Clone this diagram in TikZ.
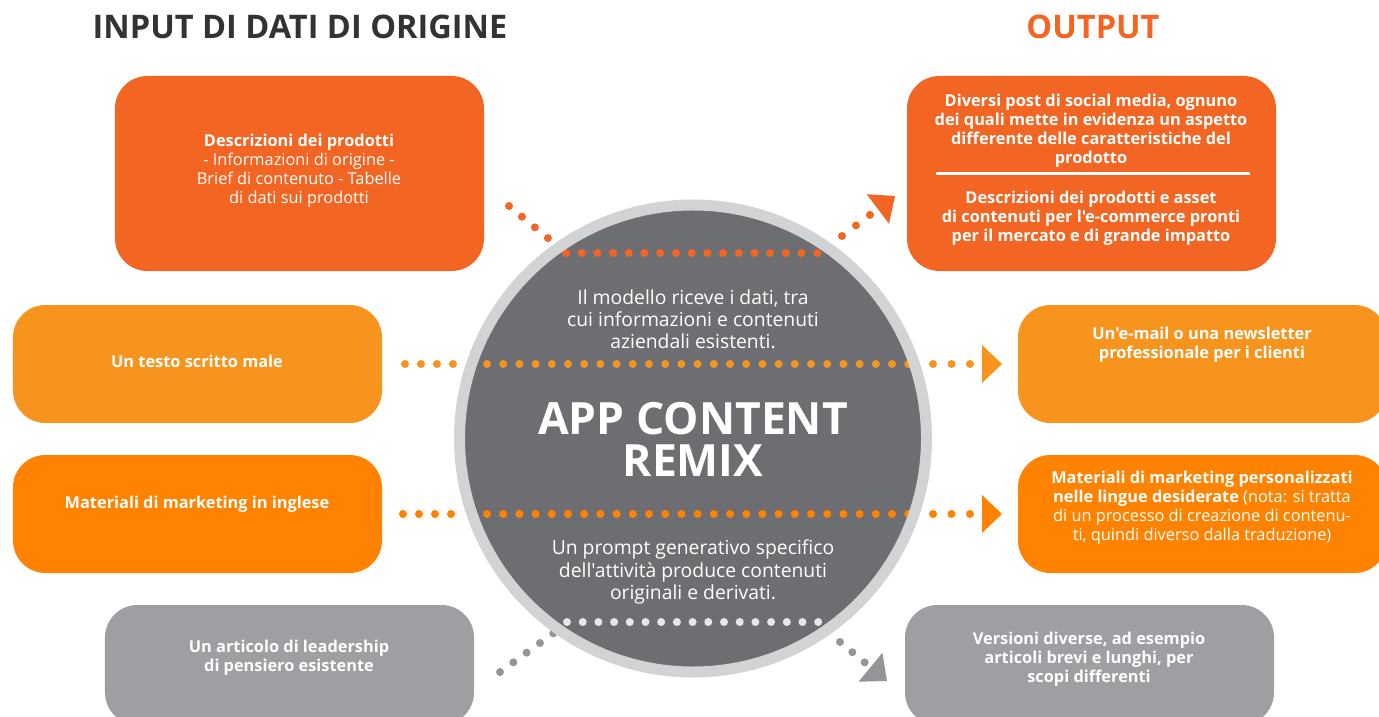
\documentclass[tikz,border=0pt]{standalone}
\usepackage{fontspec}
\setmainfont{Open Sans}[Ligatures=TeXOff]
\usetikzlibrary{positioning,arrows.meta}

\definecolor{remixred}{HTML}{F26522}
\definecolor{remixorange}{HTML}{F7941D}
\definecolor{remixamber}{HTML}{FF8300}
\definecolor{remixgray}{HTML}{9D9FA2}
\definecolor{dotgray}{HTML}{939598}
\definecolor{dotwhite}{HTML}{E6E7E8}
\definecolor{hubgray}{HTML}{6D6E71}
\definecolor{ringgray}{HTML}{D1D3D4}
\definecolor{titlegray}{HTML}{333333}

\begin{document}
\begin{tikzpicture}[
            x=0.2mm, y=-0.2mm, node distance=6.4mm,
            card/.style={rectangle, rounded corners=6.5mm, minimum width=73.8mm, inner sep=0pt, outer sep=0pt},
            tallcard/.style={card, minimum height=39mm},
            flatcard/.style={card, minimum height=23.6mm},
            cardtext/.style={text=white, align=center, font=\fontsize{9.3}{10.8}\selectfont\bfseries},
            hubtext/.style={text=white, align=center, font=\fontsize{11}{12.6}\selectfont},
            heading/.style={font=\fontsize{18.5}{21}\selectfont\bfseries},
            dotrun/.style={line width=1.6mm, line cap=round, dash pattern=on 0pt off #1},
            dotrun/.default=3.24mm,
            headtip/.style={-{Triangle[length=4mm, width=7.6mm, line width=0pt]}},
            ]
            \useasboundingbox (0,0) rectangle (1379,717);

            % Headings
            \node[heading, text=titlegray] (inhead) at (300,27) {INPUT DI DATI DI ORIGINE};
            \node[heading, text=remixred] (outhead) at (1093,27) {OUTPUT};

            % Input cards
            \node[tallcard, fill=remixred] (sources) at (299.5,173.5) {};
            \node[flatcard, fill=remixorange] (badtext) at (197.5,364) {};
            \node[flatcard, fill=remixamber] (english) [below=of badtext] {};
            \node[card, minimum height=24mm, fill=remixgray] (leader) at (289.5,665) {};

            % Output cards
            \node[tallcard, fill=remixred] (social) at (1091.5,173.5) {};
            \node[flatcard, fill=remixorange] (mail) at (1202.5,364) {};
            \node[flatcard, fill=remixamber] (localized) [below=of mail] {};
            \node[card, minimum height=24mm, fill=remixgray] (versions) at (1089.5,665) {};

            % Card texts
            \node[cardtext] (sourcestext) at (299,171) {Descrizioni dei prodotti\\{\mdseries - Informazioni di origine -}\\{\mdseries Brief di contenuto - Tabelle}\\{\mdseries di dati sui prodotti}};
            \node[cardtext] (badtexttext) at (197,361) {Un testo scritto male};
            \node[cardtext] (englishtext) at (197,504) {Materiali di marketing in inglese};
            \node[cardtext] (leadertext) at (289,658) {Un articolo di leadership\\di pensiero esistente};

            \node[cardtext] (socialtop) at (1091,131) {Diversi post di social media, ognuno\\dei quali mette in evidenza un aspetto\\differente delle caratteristiche del\\prodotto};
            \draw[white, line width=0.6mm] ([xshift=-31.2mm]social.center) -- ([xshift=31.6mm]social.center);
            \node[cardtext] (socialbottom) at (1091,218) {Descrizioni dei prodotti e asset\\di contenuti per l'e-commerce pronti\\per il mercato e di grande impatto};
            \node[cardtext] (mailtext) at (1202,345) {Un'e-mail o una newsletter\\professionale per i clienti};
            \node[cardtext] (localizedtext) at (1202,508) {Materiali di marketing personalizzati\\nelle lingue desiderate {\mdseries (nota: si tratta}\\{\mdseries di un processo di creazione di contenu-}\\{\mdseries ti, quindi diverso dalla traduzione)}};
            \node[cardtext] (versionstext) at (1089,659) {Versioni diverse, ad esempio\\articoli brevi e lunghi, per\\scopi differenti};

            % Hub
            \node[circle, fill=hubgray, minimum size=93.4mm, inner sep=0pt] (hub) at (693,438.5) {};

            % Dot runs
            \coordinate (srcA) at (509,206);   \coordinate (srcB) at (549,239);
            \coordinate (topA) at (566,253);   \coordinate (topB) at (819,253);
            \coordinate (socA) at (842,236);   \coordinate (socB) at (895,196);
            \coordinate (badA) at (405,364);   \coordinate (badB) at (455,364);
            \coordinate (midA) at (487,364);   \coordinate (midB) at (910,364);
            \coordinate (mailA) at (933,364);  \coordinate (mailB) at (1002,364);
            \coordinate (engA) at (403,514);   \coordinate (engB) at (453,514);
            \coordinate (lowA) at (487,514);   \coordinate (lowB) at (910,514);
            \coordinate (locA) at (933,514);   \coordinate (locB) at (1002,514);
            \coordinate (ldrA) at (500,672);   \coordinate (ldrB) at (555,632);
            \coordinate (botA) at (567,622);   \coordinate (botB) at (820,622);
            \coordinate (verA) at (840,642);   \coordinate (verB) at (887,681);

            \draw[dotrun=3.36mm, remixred] (srcA) -- (srcB);
            \draw[dotrun=3.14mm, remixred] (topA) -- (topB);
            \draw[dotrun=3.5mm, remixred, -{Triangle[length=4.3mm, width=7.4mm, line width=0pt]}] (socA) -- (socB);

            \draw[dotrun=3.2mm, remixorange] (badA) -- (badB);
            \draw[dotrun=3.24mm, remixorange] (midA) -- (midB);
            \draw[dotrun=3.7mm, remixorange, headtip] (mailA) -- (mailB);

            \draw[dotrun=3.2mm, remixamber] (engA) -- (engB);
            \draw[dotrun=3.24mm, remixamber] (lowA) -- (lowB);
            \draw[dotrun=3.7mm, remixamber, headtip] (locA) -- (locB);

            \draw[dotrun=3.29mm, dotgray] (ldrA) -- (ldrB);
            \draw[dotrun=3.14mm, dotwhite] (botA) -- (botB);
            \draw[dotrun=3.2mm, dotgray, -{Triangle[length=4.3mm, width=7.5mm, line width=0pt]}] (verA) -- (verB);

            % Ring over the runs
            \draw[ringgray, line width=2.2mm] (hub.center) circle[radius=46.7mm];

            % Hub texts
            \node[hubtext] (intake) at (693,319) {Il modello riceve i dati, tra\\cui informazioni e contenuti\\aziendali esistenti.};
            \node[text=white, align=center, font=\fontsize{25.3}{24}\selectfont\bfseries] (apptitle) at (693,439) {APP CONTENT\\REMIX};
            \node[hubtext] (prompt) at (693,572) {Un prompt generativo specifico\\dell'attività produce contenuti\\originali e derivati.};
        \end{tikzpicture}
\end{document}
